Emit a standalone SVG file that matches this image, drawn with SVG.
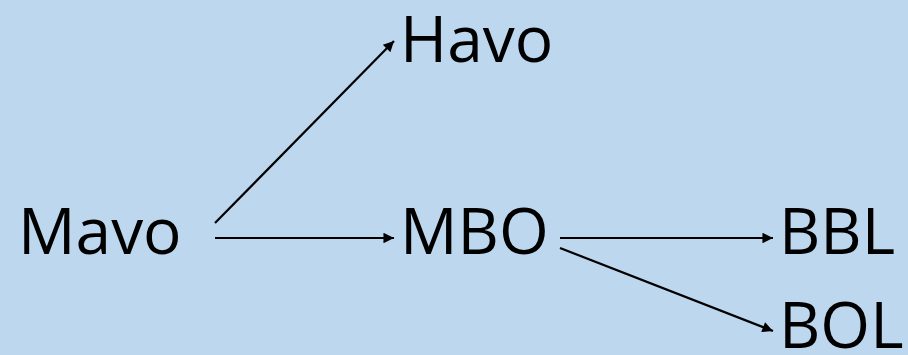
<svg xmlns="http://www.w3.org/2000/svg" width="908" height="355" viewBox="0 0 908 355">
<style>
.t{font-family:"Open Sans","Noto Sans",sans-serif;font-size:64px;fill:#000}
.c{stroke:#000;stroke-width:2.2;fill:none;marker-end:url(#ah)}
</style>
<defs>
<marker id="ah" viewBox="0 0 10 10" refX="10" refY="5" markerWidth="6.2" markerHeight="4.8" markerUnits="strokeWidth" orient="auto">
<path d="M0,0 L10,5 L0,10 z" fill="#000"/>
</marker>
</defs>
<rect width="908" height="355" fill="#BDD7EE"/>
<g id="mavo"><text class="t" x="18" y="254">Mavo</text></g>
<g id="havo"><text class="t" x="400" y="62">Havo</text></g>
<g id="mbo"><text class="t" x="400" y="254">MBO</text></g>
<g id="bbl"><text class="t" x="779" y="254">BBL</text></g>
<g id="bol"><text class="t" x="779" y="348">BOL</text></g>
<g id="connectors">
<line class="c" x1="215" y1="223" x2="394" y2="41"/>
<line class="c" x1="215" y1="238" x2="394" y2="238"/>
<line class="c" x1="560" y1="238" x2="773" y2="238"/>
<line class="c" x1="560" y1="248" x2="773" y2="331"/>
</g>
</svg>
